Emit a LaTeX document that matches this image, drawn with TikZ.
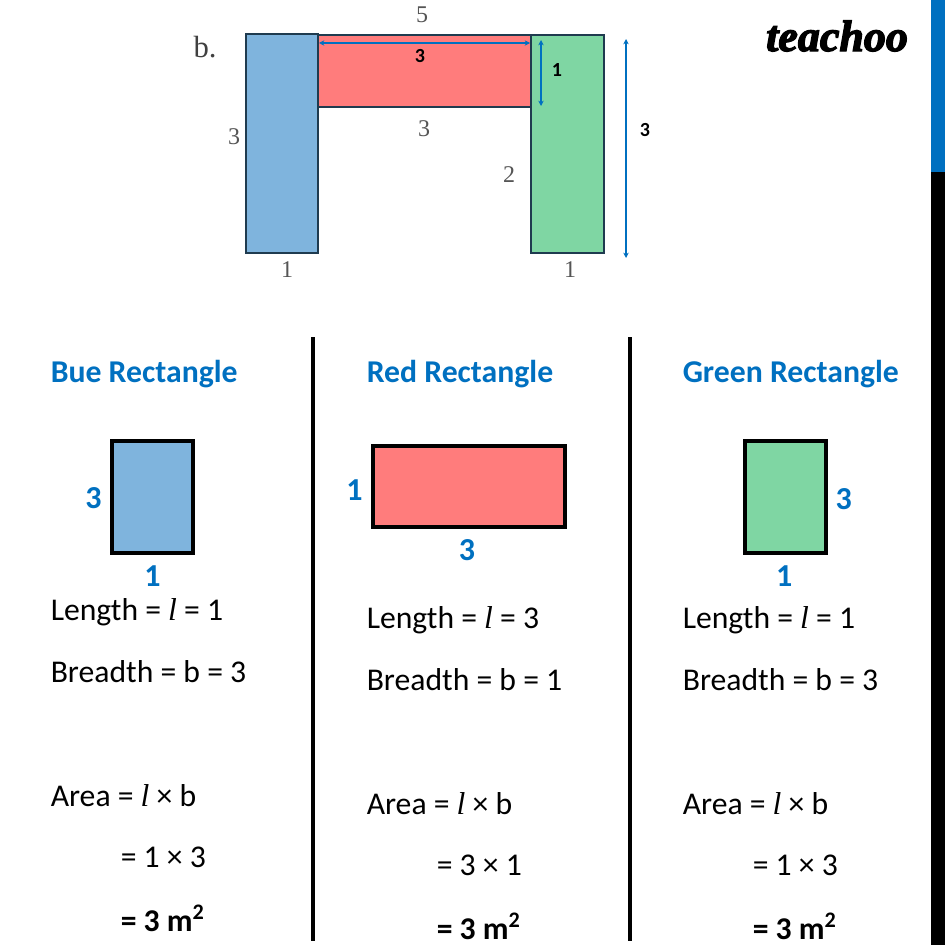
\documentclass[tikz,border=0pt]{standalone}
\usepackage{fontspec}
\setmainfont{Carlito}
\newfontfamily\serifface{Liberation Serif}
\newfontfamily\logoface[BoldItalicFeatures={FakeBold=3}]{Liberation Serif}
\usetikzlibrary{arrows.meta,positioning}
\definecolor{headblue}{HTML}{0070C0}
\definecolor{rectblue}{HTML}{7FB4DD}
\definecolor{rectred}{HTML}{FF7C7C}
\definecolor{rectgreen}{HTML}{7FD6A3}
\definecolor{edgedark}{HTML}{1F3B4F}
\definecolor{labelgrey}{HTML}{555555}
\newcommand{\ellit}{{\serifface\itshape l}}
\tikzset{main rect/.style={rectangle,draw=black,line width=2.4pt,inner sep=0pt},
         plan rect/.style={rectangle,draw=edgedark,line width=2pt,inner sep=0pt},
         heading/.style={rectangle,anchor=base west,inner sep=0pt,text=headblue,font=\fontsize{23.8}{28}\selectfont\bfseries},
         dim label/.style={rectangle,inner sep=0pt,text=headblue,font=\fontsize{24}{28}\selectfont\bfseries},
         plan label/.style={rectangle,inner sep=0pt,text=labelgrey,font=\serifface\fontsize{18}{21}\selectfont},
         plan bold/.style={rectangle,inner sep=0pt,text=black,font=\fontsize{15}{18}\selectfont\bfseries},
         body line/.style={rectangle,inner sep=0pt,text height=17pt,text depth=6pt,font=\fontsize{23.75}{28}\selectfont},
         result line/.style={body line,font=\fontsize{23.75}{28}\selectfont\bfseries},
         dim arrow/.style={{Stealth[length=4pt,width=4pt]}-{Stealth[length=4pt,width=4pt]},draw=headblue,line width=1pt},
         divider/.style={draw=black,line width=2.3pt}
}
\begin{document}
\begin{tikzpicture}[x=0.75pt,y=-0.75pt]
\useasboundingbox (0,0) rectangle (945,945);
% side bar
\fill[headblue] (931,0) rectangle (945,172);
\fill[black] (931,172) rectangle (945,945);
\node[rectangle,inner sep=0pt,font=\logoface\fontsize{33}{36}\selectfont\bfseries\itshape] (logo) at (837,36) {teachoo};
% plan
\node[plan label,text=black!75,font=\serifface\fontsize{23}{26}\selectfont] (bmark) at (205,47) {b.};
\node[plan rect,fill=rectred,minimum width=159.75pt,minimum height=54pt] (planred) at (424.5,71) {};
\node[plan rect,fill=rectblue,minimum width=54pt,minimum height=164.25pt] (planblue) at (282,143.5) {};
\node[plan rect,fill=rectgreen,minimum width=54.75pt,minimum height=163.5pt] (plangreen) at (567.5,144) {};
\coordinate (hleft) at (319,43);
\coordinate (hright) at (530,43);
\coordinate (vtop) at (541,40);
\coordinate (vbot) at (541,106);
\coordinate (rtop) at (626,39);
\coordinate (rbot) at (626,258);
\draw[dim arrow] (hleft) -- (hright);
\draw[dim arrow] (vtop) -- (vbot);
\draw[dim arrow] (rtop) -- (rbot);
\node[plan label] (topfive) at (422,15) {5};
\node[plan bold] (redlen) at (420,56) {3};
\node[plan bold] (redbrd) at (557,70) {1};
\node[plan label] (redbelow) at (424,129) {3};
\node[plan label] (blueside) at (234,137) {3};
\node[plan label] (greenside) at (509,175) {2};
\node[plan label] (bluebelow) at (287,270) {1};
\node[plan label] (greenbelow) at (570,270) {1};
\node[plan bold] (fullheight) at (645,130) {3};
% dividers
\coordinate (diva) at (313,337);
\coordinate (divb) at (313,941);
\coordinate (divc) at (630,337);
\coordinate (divd) at (630,941);
\draw[divider] (diva) -- (divb);
\draw[divider] (divc) -- (divd);
% blue column
\node[heading] (bluehead) at (50.5,382) {Bue Rectangle};
\node[main rect,fill=rectblue,minimum width=60.75pt,minimum height=84pt] (bluebox) at (152.5,497) {};
\node[dim label,left = 6.4pt of bluebox,yshift=-0.75pt] (bluethree) {3};
\node[dim label,below = 8pt of bluebox] (blueone) {1};
\node[body line,anchor=base west] (bluelen) at (50.5,620) {Length = \ellit{} = 1};
\node[body line,below = 23.5pt of bluelen.south west,anchor=north west] (bluebrd) {Breadth = b = 3};
\node[body line,below = 69.25pt of bluebrd.south west,anchor=north west] (bluearea) {Area = \ellit{} × b};
\node[body line,below = 22.75pt of bluearea.south west,xshift=52.5pt,anchor=north west] (bluecalc) {= 1 × 3};
\node[result line,below = 24.25pt of bluecalc.south west,anchor=north west] (blueres) {= 3 m\textsuperscript{2}};
% red column
\node[heading] (redhead) at (366.5,382) {Red Rectangle};
\node[main rect,fill=rectred,minimum width=144pt,minimum height=60.75pt] (redbox) at (469,486.5) {};
\node[dim label,left = 6.4pt of redbox,yshift=-2.6pt] (redone) {1};
\node[dim label,below = 7.7pt of redbox,xshift=-1.5pt] (redthree) {3};
\node[body line,anchor=base west] (redlenline) at (366.5,628) {Length = \ellit{} = 3};
\node[body line,below = 23.5pt of redlenline.south west,anchor=north west] (redbrdline) {Breadth = b = 1};
\node[body line,below = 69.25pt of redbrdline.south west,anchor=north west] (redarea) {Area = \ellit{} × b};
\node[body line,below = 22.75pt of redarea.south west,xshift=52.5pt,anchor=north west] (redcalc) {= 3 × 1};
\node[result line,below = 24.25pt of redcalc.south west,anchor=north west] (redres) {= 3 m\textsuperscript{2}};
% green column
\node[heading] (greenhead) at (682.5,382) {Green Rectangle};
\node[main rect,fill=rectgreen,minimum width=60.75pt,minimum height=84pt] (greenbox) at (785.5,497) {};
\node[dim label,right = 5.8pt of greenbox,yshift=-1.5pt] (greenthree) {3};
\node[dim label,below = 8pt of greenbox,xshift=-1pt] (greenone) {1};
\node[body line,anchor=base west] (greenlen) at (682.5,628) {Length = \ellit{} = 1};
\node[body line,below = 23.5pt of greenlen.south west,anchor=north west] (greenbrd) {Breadth = b = 3};
\node[body line,below = 69.25pt of greenbrd.south west,anchor=north west] (greenarea) {Area = \ellit{} × b};
\node[body line,below = 22.75pt of greenarea.south west,xshift=52.5pt,anchor=north west] (greencalc) {= 1 × 3};
\node[result line,below = 24.25pt of greencalc.south west,anchor=north west] (greenres) {= 3 m\textsuperscript{2}};
\end{tikzpicture}
\end{document}
